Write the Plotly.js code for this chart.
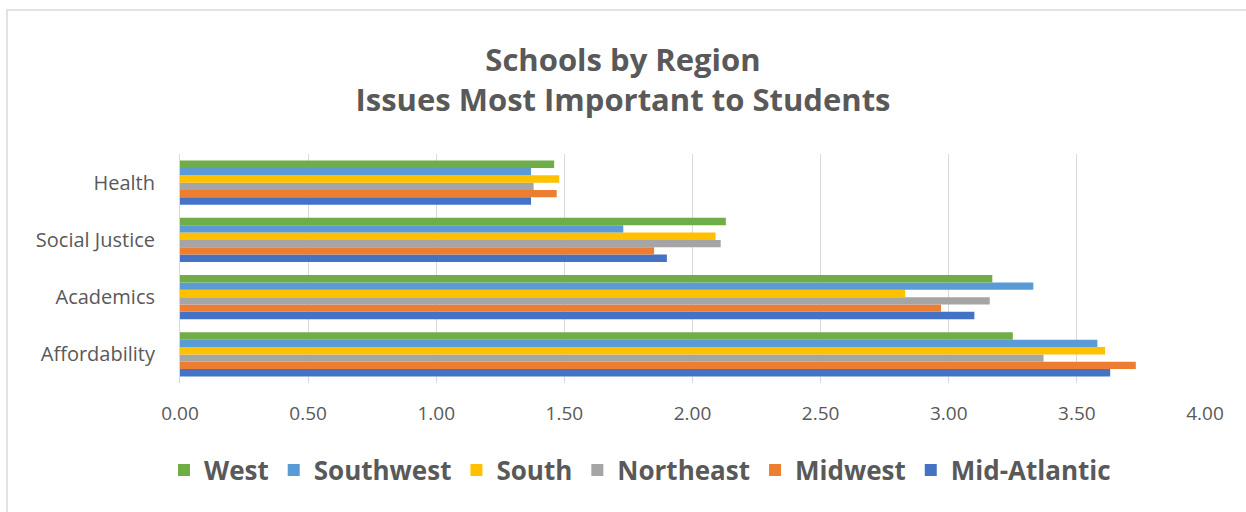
<!DOCTYPE html>
<html>
<head>
<meta charset="utf-8">
<script src="https://cdn.plot.ly/plotly-3.0.1.min.js"></script>
<style>
  html, body { margin: 0; padding: 0; background: #ffffff; }
  #chart { width: 1246px; height: 512px; }
</style>
</head>
<body>
<div id="chart"></div>
<script>
// Categories (bottom to top on the axis)
const categories = ["Affordability", "Academics", "Social Justice", "Health"];

// Series values, in the same order as categories
const midAtlantic = [3.63, 3.10, 1.90, 1.37];
const midwest     = [3.73, 2.97, 1.85, 1.47];
const northeast   = [3.37, 3.16, 2.11, 1.38];
const south       = [3.61, 2.83, 2.09, 1.48];
const southwest   = [3.58, 3.33, 1.73, 1.37];
const west        = [3.25, 3.17, 2.13, 1.46];

const seriesNames = ["Mid-Atlantic", "Midwest", "Northeast", "South", "Southwest", "West"];
const seriesValues = [midAtlantic, midwest, northeast, south, southwest, west];
const seriesColors = ["#4472C4", "#ED7D31", "#A5A5A5", "#FFC000", "#5B9BD5", "#70AD47"];

const tickValues = [0, 0.5, 1, 1.5, 2, 2.5, 3, 3.5, 4];
const tickLabels = ["0.00", "0.50", "1.00", "1.50", "2.00", "2.50", "3.00", "3.50", "4.00"];

const textColor = "#595959";
const fontFam = "Open Sans, Noto Sans, sans-serif";

const traces = seriesNames.map((name, i) => ({
  type: "bar",
  orientation: "h",
  name: name,
  y: categories,
  x: seriesValues[i],
  marker: { color: seriesColors[i], line: { width: 0 } },
  hoverinfo: "x+name"
}));

const layout = {
  width: 1246,
  height: 512,
  paper_bgcolor: "#ffffff",
  plot_bgcolor: "#ffffff",
  margin: { l: 180, r: 41, t: 154, b: 129, pad: 0 },
  barmode: "group",
  bargap: 0.23,
  bargroupgap: 0,
  title: {
    text: "<b>Schools by Region</b><br><b>Issues Most Important to Students</b>",
    font: { family: fontFam, size: 31, color: textColor },
    x: 0.5,
    xref: "container",
    xanchor: "center",
    y: 1 - 71 / 512,
    yref: "container",
    yanchor: "middle"
  },
  xaxis: {
    range: [0, 4],
    tickvals: tickValues,
    ticktext: tickLabels,
    tickfont: { family: fontFam, size: 19, color: textColor },
    showgrid: true,
    gridcolor: "#D9D9D9",
    gridwidth: 1,
    zeroline: false,
    showline: false,
    ticks: "",
    ticklabelstandoff: 17,
    fixedrange: true
  },
  yaxis: {
    type: "category",
    categoryorder: "array",
    categoryarray: categories,
    tickfont: { family: fontFam, size: 20, color: textColor },
    showgrid: false,
    zeroline: false,
    showline: true,
    linecolor: "#D9D9D9",
    linewidth: 1,
    ticks: "",
    ticklabelstandoff: 20,
    fixedrange: true
  },
  showlegend: true,
  legend: {
    orientation: "h",
    traceorder: "reversed",
    x: (640 - 180) / 1025,
    xanchor: "center",
    y: (383 - 470) / 229,
    yanchor: "middle",
    font: { family: fontFam, size: 26, color: textColor, weight: "bold" },
    itemwidth: 30,
    bgcolor: "rgba(0,0,0,0)"
  },
  shapes: [{
    type: "rect",
    xref: "paper",
    yref: "paper",
    x0: (7 - 180) / 1025,
    x1: (1260 - 180) / 1025,
    y0: (383 - 530) / 229,
    y1: (383 - 10) / 229,
    line: { color: "#D9D9D9", width: 1.5 },
    fillcolor: "rgba(0,0,0,0)",
    layer: "below"
  }]
};

Plotly.newPlot("chart", traces, layout, { displayModeBar: false, staticPlot: false });
</script>
</body>
</html>
